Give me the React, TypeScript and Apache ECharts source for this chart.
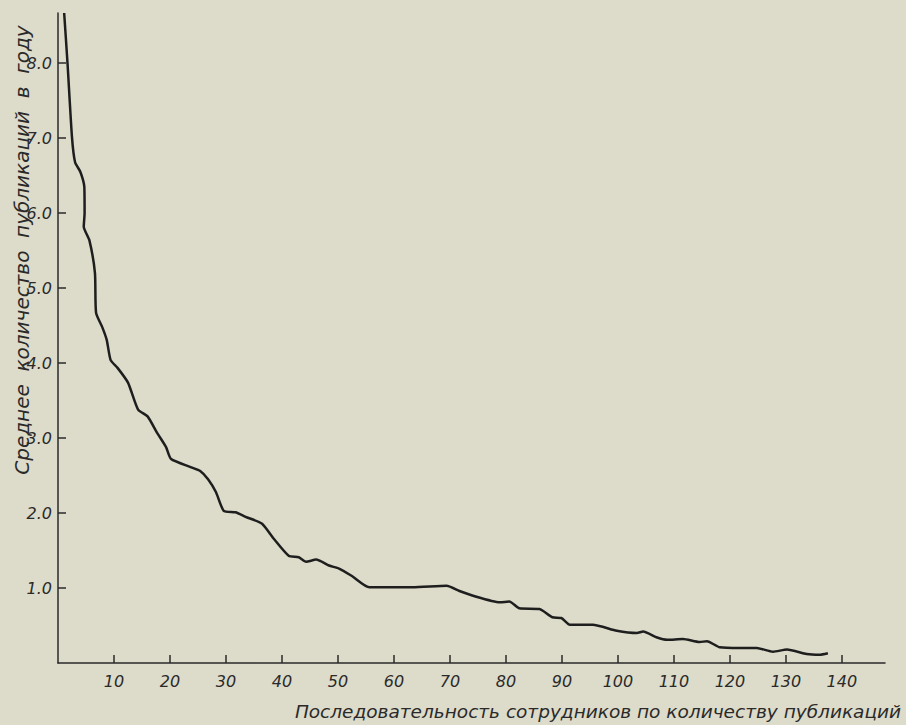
import React, { useEffect, useRef } from "react";
import * as echarts from "echarts";

// Employee rank (sequence by number of publications) and average publications per year
const employeeRank = [
  1.1, 1.7, 2.5, 3.05, 4.0, 4.7, 4.75, 4.6, 5.6, 6.6, 6.8, 7.9, 8.7, 9.4, 10.6, 12.5,
  14.3, 16.0, 17.7, 19.3, 20.2, 23.8, 25.4, 26.8, 28.2, 29.6, 31.7, 33.5, 36.4,
  38.5, 41.2, 43.0, 44.3, 46.1, 48.4, 50.2, 52.5, 55.6, 63.3, 69.4, 71.7, 74.0,
  78.9, 80.6, 82.4, 86.0, 88.3, 89.9, 91.4, 95.5, 99.8, 103.4, 104.5, 107.0,
  108.8, 111.6, 114.6, 115.9, 118.2, 121.8, 124.8, 127.7, 130.2, 133.7, 136.0,
  137.5,
];
const avgPublications = [
  8.67, 8.0, 7.01, 6.68, 6.55, 6.35, 6.0, 5.82, 5.64, 5.2, 4.67, 4.48, 4.31, 4.04, 3.94,
  3.74, 3.38, 3.29, 3.07, 2.88, 2.72, 2.61, 2.56, 2.45, 2.28, 2.03, 2.01, 1.95,
  1.86, 1.66, 1.43, 1.41, 1.35, 1.38, 1.3, 1.26, 1.16, 1.01, 1.01, 1.03, 0.96,
  0.9, 0.81, 0.82, 0.73, 0.72, 0.61, 0.6, 0.51, 0.51, 0.43, 0.4, 0.42, 0.34,
  0.31, 0.32, 0.28, 0.29, 0.21, 0.2, 0.2, 0.15, 0.18, 0.12, 0.11, 0.13,
];
const xTickValues = [10, 20, 30, 40, 50, 60, 70, 80, 90, 100, 110, 120, 130, 140];
const yTickValues = [1, 2, 3, 4, 5, 6, 7, 8];
const GAP = "\u00A0\u00A0";
const xAxisTitle = "Последовательность сотрудников по количеству публикаций";
const yAxisTitle = ["Среднее", "количество", "публикаций", "в", "году"].join(GAP);

const FONT = "'DejaVu Sans', sans-serif";
const INK = "#2a2a2a";

export default function App() {
  const ref = useRef<HTMLDivElement>(null);
  useEffect(() => {
    if (!ref.current) return;
    const chart = echarts.init(ref.current, null, { renderer: "svg" });
    const data = employeeRank.map((x, i) => [x, avgPublications[i]]);
    chart.setOption({
      animation: false,
      backgroundColor: "#dddbc9",
      grid: { left: 58, right: 21, top: 13, bottom: 62, containLabel: false },
      xAxis: {
        type: "value",
        min: 0,
        max: 147.7,
        splitLine: { show: false },
        axisLine: { show: true, onZero: false, lineStyle: { color: INK, width: 1.5 } },
        axisTick: {
          show: true,
          inside: true,
          length: 8,
          customValues: xTickValues,
          lineStyle: { color: INK, width: 1.5 },
        },
        axisLabel: {
          customValues: xTickValues,
          color: INK,
          fontFamily: FONT,
          fontStyle: "italic",
          fontSize: 16,
          margin: 10,
        },
      },
      yAxis: {
        type: "value",
        min: 0,
        max: 8.67,
        splitLine: { show: false },
        axisLine: { show: true, onZero: false, lineStyle: { color: INK, width: 1.5 } },
        axisTick: {
          show: true,
          inside: true,
          length: 8,
          customValues: yTickValues,
          lineStyle: { color: INK, width: 1.5 },
        },
        axisLabel: {
          customValues: yTickValues,
          formatter: (v: number) => v.toFixed(1),
          color: INK,
          fontFamily: FONT,
          fontStyle: "italic",
          fontSize: 16,
          margin: 6,
        },
      },
      graphic: [
        {
          type: "text",
          x: 598,
          y: 711,
          style: {
            text: xAxisTitle,
            fill: INK,
            font: `italic 18.5px ${FONT}`,
            textAlign: "center",
            textVerticalAlign: "middle",
          },
        },
        {
          type: "text",
          x: 22,
          y: 250,
          rotation: Math.PI / 2,
          style: {
            text: yAxisTitle,
            fill: INK,
            font: `italic 20px ${FONT}`,
            textAlign: "center",
            textVerticalAlign: "middle",
          },
        },
      ],
      series: [
        {
          type: "line",
          data,
          smooth: 0.2,
          showSymbol: false,
          lineStyle: { color: "#1e1e1e", width: 2.5 },
        },
      ],
    });
    return () => chart.dispose();
  }, []);
  return (
    <div
      ref={ref}
      style={{ position: "absolute", left: 0, top: 0, width: 906, height: 725 }}
    />
  );
}
